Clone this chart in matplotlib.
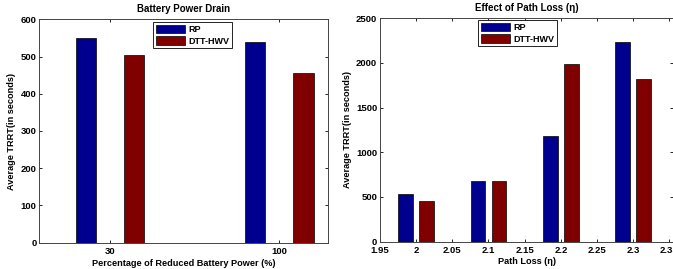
import numpy as np
import matplotlib
matplotlib.use("Agg")
import matplotlib.pyplot as plt

# data
battery_cats = [30, 100]
battery_rp = [550, 540]
battery_dtt = [503, 455]

pathloss_cats = [2.0, 2.1, 2.2, 2.3]
pathloss_rp = [535, 680, 1185, 2235]
pathloss_dtt = [455, 675, 1990, 1820]

series_names = ["RP", "DTT-HWV"]
blue = "#00008F"
red = "#800000"

plt.rcParams['font.family'] = ['Liberation Sans', 'DejaVu Sans']
plt.rcParams['font.weight'] = 'bold'
plt.rcParams['font.size'] = 6.5

W, H = 673, 269
fig = plt.figure(figsize=(W / 100, H / 100), dpi=100)


def style_axes(ax):
    ax.tick_params(direction='in', top=True, right=True, length=2.5, width=0.6,
                   labelsize=6.8, pad=2)
    ax.tick_params(axis='x', pad=3)
    for s in ax.spines.values():
        s.set_linewidth(0.7)
        s.set_color('#444444')
    for lbl in ax.get_xticklabels() + ax.get_yticklabels():
        lbl.set_fontweight('bold')


def add_legend(ax, x0, y0):
    leg = ax.legend(loc='upper left', bbox_to_anchor=(x0, y0),
                    fontsize=6.5, handlelength=3.2, handleheight=1.1, borderpad=0.3,
                    labelspacing=0.25, handletextpad=0.4, fancybox=False, framealpha=1,
                    borderaxespad=0)
    leg.get_frame().set_edgecolor('black')
    leg.get_frame().set_linewidth(0.6)


# Left: battery power drain
ax1 = fig.add_axes([39.3 / W, 1 - 242.7 / H, (327.7 - 39.3) / W, (242.7 - 19.3) / H])
x = np.array(battery_cats, dtype=float)
ax1.bar(x - 10, battery_rp, width=8.3, color=blue, edgecolor='black', linewidth=0.5,
        label=series_names[0])
ax1.bar(x + 10, battery_dtt, width=8.3, color=red, edgecolor='black', linewidth=0.5,
        label=series_names[1])
ax1.set_xlim(0.8, 120)
ax1.set_ylim(0, 600)
ax1.set_xticks(battery_cats)
ax1.set_yticks(range(0, 601, 100))
ax1.set_title("Battery Power Drain", fontsize=7, fontweight='bold', pad=5)
ax1.set_xlabel("Percentage of Reduced Battery Power (%)", fontsize=6.6, fontweight='bold',
               labelpad=2)
ax1.set_ylabel("Average TRRT(in seconds)", fontsize=6.6, fontweight='bold', labelpad=3)
style_axes(ax1)
add_legend(ax1, (153 - 39.3) / 288.4, 1 - (22 - 19.3) / 223.4)

# Right: path loss
ax2 = fig.add_axes([380 / W, 1 - 241.5 / H, (673 - 380) / W, (241.5 - 18.3) / H])
x2 = np.array(pathloss_cats)
ax2.bar(x2 - 0.0145, pathloss_rp, width=0.02, color=blue, edgecolor='black', linewidth=0.5,
        label=series_names[0])
ax2.bar(x2 + 0.0145, pathloss_dtt, width=0.02, color=red, edgecolor='black', linewidth=0.5,
        label=series_names[1])
ax2.set_xlim(1.95, 1.95 + (673 - 380) / 723.3)
ax2.set_ylim(0, 2500)
ax2.set_xticks([1.95, 2, 2.05, 2.1, 2.15, 2.2, 2.25, 2.3, 2.35])
ax2.set_xticklabels(["1.95", "2", "2.05", "2.1", "2.15", "2.2", "2.25", "2.3", "2.35"])
ax2.set_yticks(range(0, 2501, 500))
ax2.set_title("Effect of Path Loss (\u03b7)", fontsize=7, fontweight='bold', pad=5)
ax2.set_xlabel("Path Loss (\u03b7)", fontsize=6.6, fontweight='bold', labelpad=2)
ax2.set_ylabel("Average TRRT(in seconds)", fontsize=6.6, fontweight='bold', labelpad=3)
style_axes(ax2)
add_legend(ax2, (478 - 380) / 293, 1 - (20 - 18.3) / 223.2)

fig.savefig("out.png", dpi=100)
